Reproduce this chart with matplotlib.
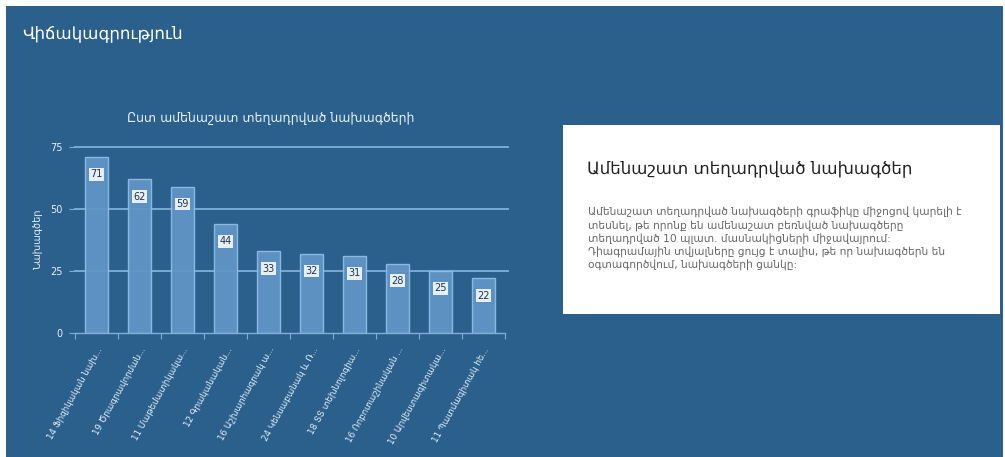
import matplotlib
matplotlib.use("Agg")
import matplotlib.pyplot as plt
from matplotlib.patches import Rectangle

plt.rcParams['font.family'] = ['DejaVu Sans']

# ---- data ----
page_title = "Վիճակագրություն"
chart_title = "Ըստ ամենաշատ տեղադրված նախագծերի"
y_label = "Նախագծեր"
categories = [
    "14 Ֆիզիկական նախ...",
    "19 Ծրագրավորման...",
    "11 Մաթեմատիկակա...",
    "12 Գրականական...",
    "16 Աշխարհագրակ ա...",
    "24 Կենսաբանակ և Ռ...",
    "18 ՏՏ տեխնոլոգիա...",
    "16 Ռոբոտաշինական ...",
    "10 Արվեստագիտակա...",
    "11 Պատմագիտակ հե...",
]
values = [71, 62, 59, 44, 33, 32, 31, 28, 25, 22]
y_ticks = [0, 25, 50, 75]

box_title = "Ամենաշատ տեղադրված նախագծեր"
box_lines = [
    "Ամենաշատ տեղադրված նախագծերի գրաֆիկը միջոցով կարելի է",
    "տեսնել, թե որոնք են ամենաշատ բեռնված նախագծերը",
    "տեղադրված 10 պլատ. մասնակիցների միջավայրում:",
    "Դիագրամային տվյալները ցույց է տալիս, թե որ նախագծերն են",
    "օգտագործվում, նախագծերի ցանկը:",
]

# ---- style ----
BG = '#2b5f8c'
BAR = '#6094c6'
BAR_EDGE = '#8fbde3'
GRID = '#7fb0da'
TXT = '#e6f0f8'

W, H = 1005, 457
fig = plt.figure(figsize=(W / 100, H / 100), dpi=100, facecolor='white')

def fx(px):
    return px / W

def fy(py):
    return 1 - py / H

# blue panel
fig.patches.append(Rectangle((fx(6), 0), fx(1003) - fx(6), fy(6), transform=fig.transFigure,
                             facecolor=BG, edgecolor='none', zorder=-10))
fig.text(fx(22), fy(33), page_title, color='white', fontsize=12, va='center', ha='left')

# chart axes
ax = fig.add_axes([fx(75), fy(333), fx(505) - fx(75), fy(147) - fy(333)])
ax.set_zorder(5)
ax.set_facecolor('none')
x = list(range(len(categories)))
ax.bar(x, values, width=0.52, color=BAR, edgecolor=BAR_EDGE, linewidth=1.0, zorder=2, alpha=0.95)
ax.set_xlim(-0.5, len(categories) - 0.5)
ax.set_ylim(0, 75)
ax.set_yticks(y_ticks)
ax.set_yticklabels([str(t) for t in y_ticks], color=TXT, fontsize=7)
for t in y_ticks:
    if t > 0:
        ax.plot([-0.5, len(categories) - 0.43], [t, t], color=GRID, lw=1.3, zorder=1, clip_on=False)
for sp in ['top', 'right', 'left']:
    ax.spines[sp].set_visible(False)
ax.spines['bottom'].set_color(GRID)
ax.spines['bottom'].set_linewidth(1.0)
ax.tick_params(axis='y', length=4, color=GRID, pad=5)

# x ticks at boundaries, labels at centers
ax.set_xticks([i - 0.5 for i in range(len(categories) + 1)])
ax.set_xticklabels([])
ax.tick_params(axis='x', length=4, color=GRID)
for i, lab in enumerate(categories):
    ax.annotate(lab, xy=(i, 0), xycoords=('data', 'axes fraction'), xytext=(0, -9),
                textcoords='offset points', rotation=61, ha='right', va='top',
                rotation_mode='anchor', fontsize=6.3, color=TXT)

ax.set_ylabel(y_label, color=TXT, fontsize=7, labelpad=5)
ax.set_title(chart_title, color=TXT, fontsize=9, pad=18, x=0.455)

for i, v in enumerate(values):
    ax.text(i, v - 7, str(v), ha='center', va='center', fontsize=7, color='#1e3550',
            bbox=dict(boxstyle='square,pad=0.15', facecolor='#e8eef5', edgecolor='none'), zorder=3)

# right info box
fig.patches.append(Rectangle((fx(563), fy(314)), fx(1000) - fx(563), fy(125) - fy(314),
                             transform=fig.transFigure, facecolor='white', edgecolor='none', zorder=1))
fig.text(fx(587), fy(168), box_title, color='#222222', fontsize=12, va='center', ha='left', zorder=2)
for j, line in enumerate(box_lines):
    fig.text(fx(588), fy(212 + j * 13.2), line, color='#666666', fontsize=7.7, va='center', ha='left', zorder=2)

fig.savefig('out.png', dpi=100, facecolor=fig.get_facecolor())
